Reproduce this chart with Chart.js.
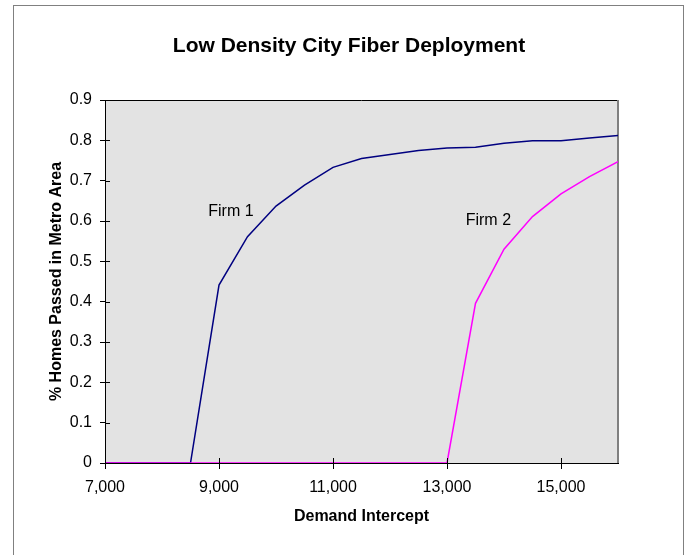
<!DOCTYPE html>
<html>
<head>
<meta charset="utf-8">
<script src="https://cdn.jsdelivr.net/npm/chart.js@4"></script>
<style>
  body { margin: 0; background: #fff; }
  #wrap { width: 687px; height: 555px; position: relative; }
</style>
</head>
<body>
<div id="wrap"><canvas id="fiberChart"></canvas></div>
<script>
// demand intercept values (x) and share of homes passed per firm
const demand = [7000, 7500, 8000, 8500, 9000, 9500, 10000, 10500, 11000, 11500,
                12000, 12500, 13000, 13500, 14000, 14500, 15000, 15500, 16000];
const firm1 = [0, 0, 0, 0, 0.441, 0.561, 0.637, 0.689, 0.733, 0.755,
               0.765, 0.775, 0.781, 0.783, 0.793, 0.799, 0.799, 0.806, 0.812];
const firm2 = [0, 0, 0, 0, 0, 0, 0, 0, 0, 0,
               0, 0, 0, 0.396, 0.530, 0.611, 0.667, 0.710, 0.747];
const xTicks = [7000, 9000, 11000, 13000, 15000];
const seriesLabels = ['Firm 1', 'Firm 2'];
// where the in-plot series labels sit (data coords, left/baseline)
const labelAnchors = [[8812, 0.612], [13328, 0.590]];
const chartTitle = 'Low Density City Fiber Deployment';

const FONT = "'Liberation Sans', Arial, sans-serif";

const toPoints = (ys) => demand.map((x, i) => ({ x: x, y: ys[i] }));

const plotFrame = {
    id: 'plotFrame',
    beforeDraw(chart) {
        // grey plot background, painted before the axes
        const { ctx, chartArea: a } = chart;
        ctx.save();
        ctx.fillStyle = '#e3e3e3';
        ctx.fillRect(a.left, a.top, a.right - a.left, a.bottom - a.top);
        ctx.restore();
    },
    beforeDatasetsDraw(chart) {
        const { ctx, chartArea: a } = chart;
        ctx.save();
        ctx.strokeStyle = '#000';
        ctx.lineWidth = 1;
        ctx.beginPath();
        ctx.moveTo(a.left, a.top + 0.5);
        ctx.lineTo(a.right, a.top + 0.5);
        ctx.stroke();
        ctx.strokeStyle = '#808080';
        ctx.lineWidth = 2;
        ctx.beginPath();
        ctx.moveTo(a.right, a.top);
        ctx.lineTo(a.right, a.bottom);
        ctx.stroke();
        ctx.restore();
    },
    afterDraw(chart) {
        const { ctx, chartArea: a, scales } = chart;
        ctx.save();
        // inner half of the crossing tick marks
        ctx.strokeStyle = '#000';
        ctx.lineWidth = 1;
        ctx.beginPath();
        scales.x.ticks.forEach(t => {
            const px = Math.round(scales.x.getPixelForValue(t.value)) + 0.5;
            ctx.moveTo(px, a.bottom);
            ctx.lineTo(px, a.bottom - 5);
        });
        scales.y.ticks.forEach(t => {
            const py = Math.round(scales.y.getPixelForValue(t.value)) + 0.5;
            ctx.moveTo(a.left, py);
            ctx.lineTo(a.left + 5, py);
        });
        ctx.stroke();

        // chart title (centred on the whole chart frame, not the padded box)
        ctx.fillStyle = '#000';
        ctx.textBaseline = 'alphabetic';
        ctx.textAlign = 'center';
        ctx.font = 'bold 21px ' + FONT;
        ctx.fillText(chartTitle, 349, 52);

        // series labels
        ctx.font = '16px ' + FONT;
        ctx.textAlign = 'left';
        labelAnchors.forEach((p, i) => {
            ctx.fillText(seriesLabels[i], scales.x.getPixelForValue(p[0]), scales.y.getPixelForValue(p[1]));
        });

        // outer chart border
        ctx.strokeStyle = '#808080';
        ctx.lineWidth = 1;
        ctx.strokeRect(13.5, 5.5, 670, 600);
        ctx.restore();
    }
};

new Chart(document.getElementById('fiberChart'), {
    type: 'line',
    data: {
        datasets: [{
            label: seriesLabels[0],
            data: toPoints(firm1),
            borderColor: '#000080',
            borderWidth: 1.5,
            pointRadius: 0,
            tension: 0,
            order: 2
        }, {
            label: seriesLabels[1],
            data: toPoints(firm2),
            borderColor: '#ff00ff',
            borderWidth: 1.5,
            pointRadius: 0,
            tension: 0,
            order: 1
        }]
    },
    options: {
        responsive: true,
        maintainAspectRatio: false,
        animation: false,
        layout: { padding: { left: 40, right: 69, top: 100, bottom: 25 } },
        plugins: {
            legend: { display: false },
            tooltip: { enabled: false },
            title: { display: false }
        },
        scales: {
            x: {
                type: 'linear',
                min: 7000,
                max: 16000,
                afterBuildTicks: (scale) => { scale.ticks = xTicks.map(v => ({ value: v })); },
                afterFit: (scale) => { scale.height = 67; },
                border: { color: '#000', width: 1 },
                grid: { drawOnChartArea: false, tickLength: 6, color: '#000' },
                ticks: {
                    color: '#000',
                    padding: 9,
                    maxRotation: 0,
                    font: { family: FONT, size: 16 },
                    callback: (v) => v.toLocaleString('en-US')
                },
                title: {
                    display: true,
                    text: 'Demand Intercept',
                    color: '#000',
                    font: { family: FONT, size: 16, weight: 'bold' },
                    padding: 4
                }
            },
            y: {
                min: 0,
                max: 0.9,
                afterFit: (scale) => { scale.width = 65; },
                border: { color: '#000', width: 1 },
                grid: { drawOnChartArea: false, tickLength: 5, color: '#000' },
                ticks: {
                    stepSize: 0.1,
                    color: '#000',
                    padding: 8,
                    font: { family: FONT, size: 16 },
                    callback: (v) => Math.round(v * 10) / 10
                },
                title: {
                    display: true,
                    text: '% Homes Passed in Metro Area',
                    color: '#000',
                    font: { family: FONT, size: 16, weight: 'bold' },
                    padding: { top: 7, bottom: 4 }
                }
            }
        }
    },
    plugins: [plotFrame]
});
</script>
</body>
</html>
